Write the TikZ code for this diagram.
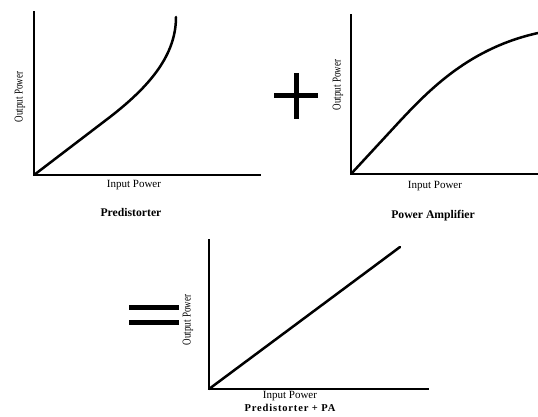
\documentclass[tikz,border=0pt]{standalone}
\usepackage{fontspec}
\setmainfont{Liberation Serif}
\begin{document}
\begin{tikzpicture}[x=1pt,y=-1pt,
  axis/.style={line width=2.6pt,line cap=rect},
  curve/.style={line width=2.5pt,line cap=round,line join=round},
  xlab/.style={font=\fontsize{11}{12}\selectfont,inner sep=0pt},
  ylab/.style={font=\fontsize{12}{12}\selectfont,inner sep=0pt,rotate=90,xscale=0.75},
  title/.style={font=\fontsize{11.7}{13}\selectfont\bfseries,inner sep=0pt},
  opbar/.style={line width=5pt}]
\useasboundingbox (0,0) rectangle (538,417);
% Panel 1: Predistorter
\coordinate (o1) at (34,175);
\draw[axis] (34,12) -- (o1) -- (260,175);
\draw[curve] (o1) -- (110,117) .. controls (150,86) and (176,55) .. (176,17);
\node[xlab] (x1) at (134,185) {Input Power};
\node[ylab] (y1) at (20,97) {Output Power};
\node[title] (t1) at (131,212) {Predistorter};
% Plus
\coordinate (pc) at (296,96);
\draw[opbar] (274,96) -- (318,96);
\draw[opbar] (296,73) -- (296,119);
% Panel 2: Power Amplifier
\coordinate (o2) at (351,174);
\draw[axis] (351,15) -- (o2) -- (538,174);
\draw[curve] (o2) -- (400,121) .. controls (430,89) and (470,48) .. (538,33);
\node[xlab] (x2) at (435,186) {Input Power};
\node[ylab] (y2) at (338,85) {Output Power};
\node[title] (t2) at (433,216) {Power Amplifier};
% Equals
\draw[opbar] (129,307) -- (179,307);
\draw[opbar] (129,322) -- (179,322);
% Panel 3: result
\coordinate (o3) at (209,389);
\draw[axis] (209,240) -- (o3) -- (428,389);
\draw[curve] (o3) -- (400,247);
\node[xlab] (x3) at (290,396.5) {Input Power};
\node[ylab] (y3) at (188,320) {Output Power};
\node[title,font=\fontsize{10.5}{12}\selectfont\bfseries\addfontfeatures{LetterSpace=8}] (t3) at (290,408) {Predistorter + PA};
\end{tikzpicture}
\end{document}
